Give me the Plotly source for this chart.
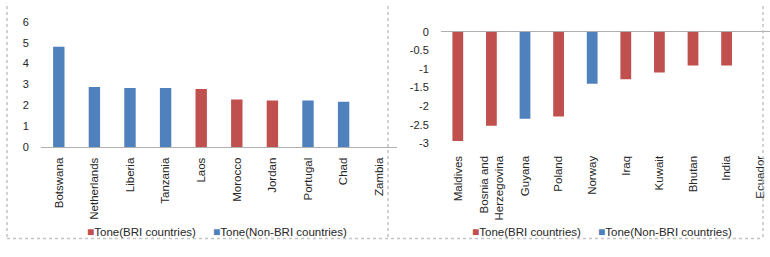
import plotly.graph_objects as go

W, H = 770, 257
RED = "#C0504D"
BLUE = "#4F81BD"

# Left panel: positive tone
left_countries = ["Botswana", "Netherlands", "Liberia", "Tanzania", "Laos",
                  "Morocco", "Jordan", "Portugal", "Chad", "Zambia"]
left_values = [4.8, 2.88, 2.83, 2.83, 2.78, 2.28, 2.23, 2.23, 2.17, 0]
left_bri = [False, False, False, False, True, True, True, False, False, False]

# Right panel: negative tone
right_countries = ["Maldives", "Bosnia and<br>Herzegovina", "Guyana", "Poland", "Norway",
                   "Iraq", "Kuwait", "Bhutan", "India", "Ecuador"]
right_values = [-2.94, -2.53, -2.34, -2.28, -1.40, -1.28, -1.10, -0.91, -0.91, 0]
right_bri = [True, True, False, True, False, True, True, True, True, False]

left_ticks = [0, 1, 2, 3, 4, 5, 6]
right_ticks = [0, -0.5, -1, -1.5, -2, -2.5, -3]
right_ticklabels = ["0", "-0.5", "-1", "-1.5", "-2", "-2.5", "-3"]

FONT = "Liberation Sans"
TEXT = "#262626"

def px_x(p):
    return p / W

def px_y(p):
    return 1 - p / H

fig = go.Figure()

def add_panel(cats, vals, bri, xa, ya):
    for is_bri, name, color in [(True, "Tone(BRI countries)", RED),
                                (False, "Tone(Non-BRI countries)", BLUE)]:
        xs = [c for c, b in zip(cats, bri) if b == is_bri]
        ys = [v for v, b in zip(vals, bri) if b == is_bri]
        fig.add_trace(go.Bar(
            x=xs, y=ys, name=name, marker_color=color,
            marker_line=dict(width=0),
            width=0.32, xaxis=xa, yaxis=ya, showlegend=False,
        ))

add_panel(left_countries, left_values, left_bri, "x", "y")
add_panel(right_countries, right_values, right_bri, "x2", "y2")

# legend entries
legend_y = px_y(237)
def legend(x_start, x2_start):
    fig.add_annotation(x=px_x(x_start), y=legend_y, xref="paper", yref="paper",
                       text="<span style='color:%s;font-size:12px'>■</span>Tone(BRI countries)" % RED,
                       showarrow=False, xanchor="left", yanchor="middle",
                       font=dict(family=FONT, size=11.5, color=TEXT))
    fig.add_annotation(x=px_x(x2_start), y=legend_y, xref="paper", yref="paper",
                       text="<span style='color:%s;font-size:12px'>■</span>Tone(Non-BRI countries)" % BLUE,
                       showarrow=False, xanchor="left", yanchor="middle",
                       font=dict(family=FONT, size=11.5, color=TEXT))

legend(85, 211)
legend(470, 596)

xfont = dict(family=FONT, size=11.5, color=TEXT)
yfont = dict(family=FONT, size=11, color=TEXT)

fig.update_layout(
    width=W, height=H,
    margin=dict(l=0, r=0, t=0, b=0),
    paper_bgcolor="white", plot_bgcolor="rgba(0,0,0,0)",
    barmode="overlay",
    showlegend=False,
    xaxis=dict(domain=[px_x(41), px_x(397)], type="category",
               categoryorder="array", categoryarray=left_countries,
               range=[-0.5, 9.5], tickangle=-90, tickfont=xfont,
               showline=True, linecolor="#b0b0b0", linewidth=1,
               ticks="outside", ticklen=5, tickcolor="rgba(0,0,0,0)",
               showgrid=False, anchor="y"),
    yaxis=dict(domain=[px_y(148), px_y(16.6)], range=[0, 6],
               tickvals=left_ticks, tickfont=yfont,
               showgrid=False, zeroline=False, showline=False,
               ticks="outside", ticklen=9, tickcolor="rgba(0,0,0,0)",
               anchor="x"),
    xaxis2=dict(domain=[px_x(441), 1.0], type="category",
                categoryorder="array", categoryarray=right_countries,
                range=[-0.5, 9.5 - 7 / 33.6], tickangle=-90, tickfont=xfont,
                showline=False, showgrid=False, anchor="y2",
                ticks="outside", ticklen=7, tickcolor="rgba(0,0,0,0)"),
    yaxis2=dict(domain=[px_y(144), px_y(26.9)], range=[-3, 0.001],
                tickvals=right_ticks, ticktext=right_ticklabels, tickfont=yfont,
                showgrid=False, zeroline=True, zerolinecolor="#b0b0b0", zerolinewidth=1,
                showline=False,
                ticks="outside", ticklen=9, tickcolor="rgba(0,0,0,0)",
                anchor="x2"),
)

# Dotted panel borders
border = dict(color="#c4c4c4", width=1.5, dash="dot")
for x in [7, 388, 763]:
    fig.add_shape(type="line", xref="paper", yref="paper",
                  x0=px_x(x), x1=px_x(x), y0=px_y(0), y1=px_y(244), line=border)
fig.add_shape(type="line", xref="paper", yref="paper",
              x0=px_x(7), x1=px_x(763), y0=px_y(244), y1=px_y(244), line=border)

fig.write_html("out.html")
